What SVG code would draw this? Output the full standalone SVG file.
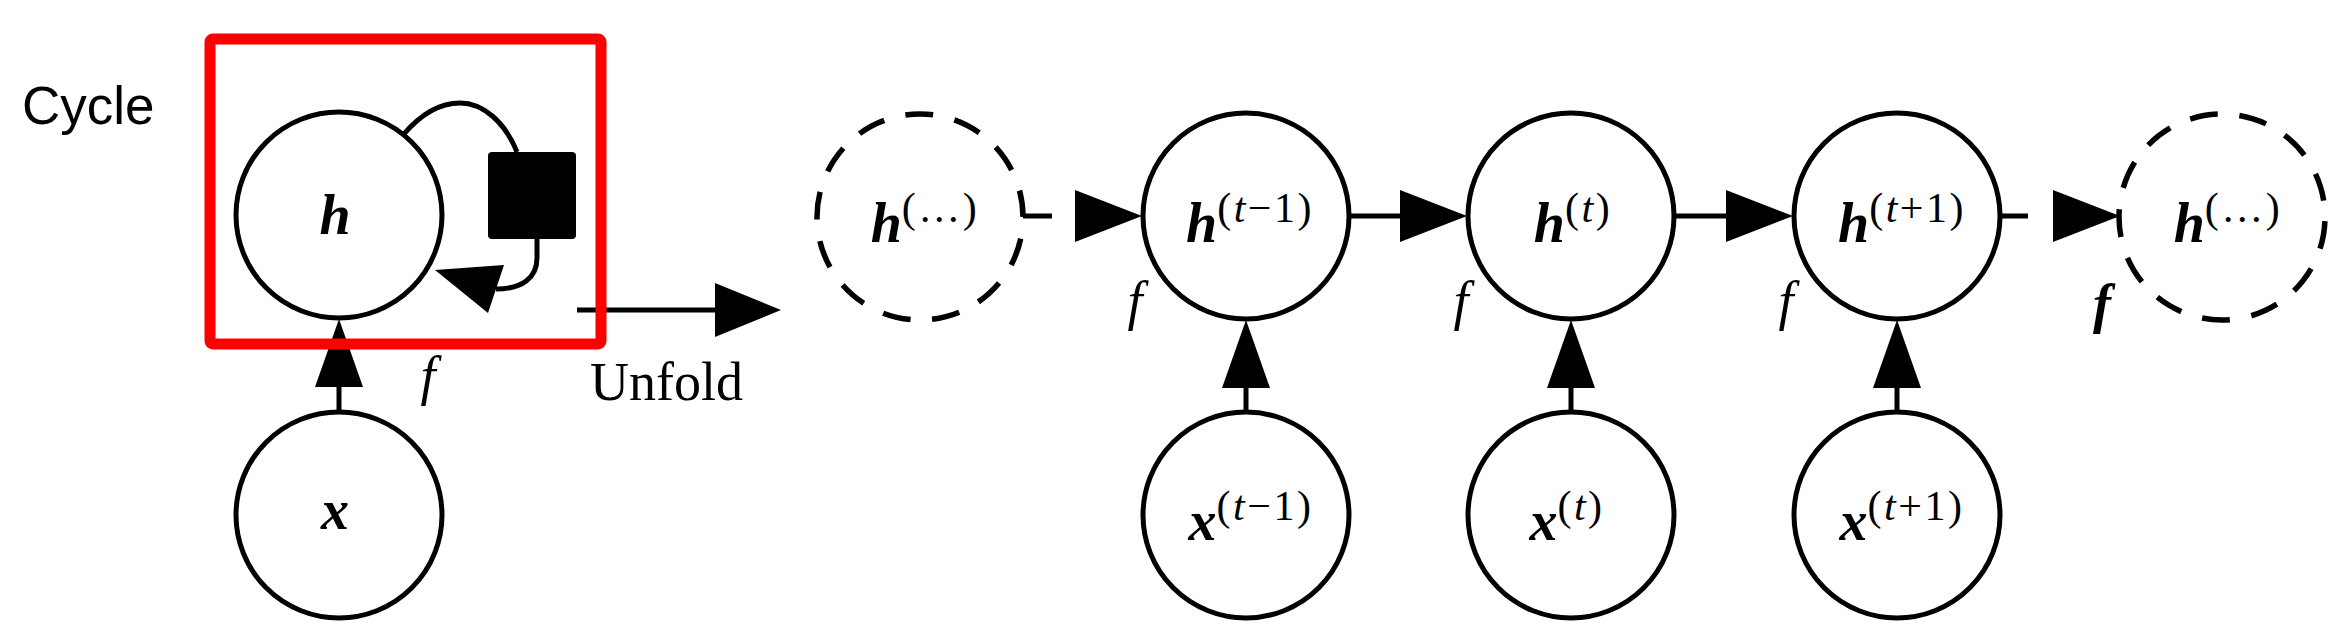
<svg xmlns="http://www.w3.org/2000/svg" xmlns:xlink="http://www.w3.org/1999/xlink" width="2345" height="633" viewBox="0 0 2345 633">
<style>
  .node { fill: #fff; stroke: #000; stroke-width: 5; }
  .dashed { fill: #fff; stroke: #000; stroke-width: 5.5; stroke-dasharray: 28 21.8; }
  .edge { fill: none; stroke: #000; stroke-width: 5; }
  .head { fill: #000; stroke: none; }
  .math { font-family: "Liberation Serif", "Times New Roman", serif; fill: #000; }
  .bi { font-weight: bold; font-style: italic; font-size: 56px; }
  .sup { font-size: 42px; letter-spacing: 2.5px; }
  .it { font-style: italic; }
  .f { font-family: "Liberation Serif", "Times New Roman", serif; font-style: italic; font-size: 54px; fill: #000; }
  .roman { font-family: "Liberation Serif", "Times New Roman", serif; font-size: 54px; fill: #000; }
  .sans { font-family: "Liberation Sans", Arial, sans-serif; font-size: 53px; fill: #000; }
</style>
<defs>
  <path id="ah" class="head" d="M0,0 L-67,-26 L-67,26 Z"/>
  <path id="ahv" class="head" d="M0,0 L-24,68 L24,68 Z"/>
</defs>
<rect width="2345" height="633" fill="#fff"/>

<text class="sans" x="22" y="124">Cycle</text>

<g id="connectors">
  <!-- cycle: self loop -->
  <path class="edge" d="M403,135 C420,115 440,103 460,103 C483,103 505,122 517,152"/>
  <path class="edge" d="M537,239 L537,258 C537,278 522,289 496,289"/>
  <path class="head" d="M435,270 L504,265 L488,313 Z"/>
  <!-- x -> h (cycle) -->
  <line class="edge" x1="339" y1="412" x2="339" y2="380"/>
  <use xlink:href="#ahv" x="339" y="319"/>
  <!-- unfold arrow -->
  <line class="edge" x1="577" y1="310" x2="720" y2="310"/>
  <path class="head" d="M781,310 L715,283 L715,337 Z"/>
  <!-- horizontal chain -->
  <line class="edge" x1="1023" y1="216" x2="1052" y2="216"/>
  <use xlink:href="#ah" x="1142" y="216"/>
  <line class="edge" x1="1349" y1="216" x2="1405" y2="216"/>
  <use xlink:href="#ah" x="1467" y="216"/>
  <line class="edge" x1="1674" y1="216" x2="1730" y2="216"/>
  <use xlink:href="#ah" x="1793" y="216"/>
  <line class="edge" x1="2000" y1="216" x2="2028" y2="216"/>
  <use xlink:href="#ah" x="2120" y="216"/>
  <!-- vertical inputs -->
  <line class="edge" x1="1246" y1="412" x2="1246" y2="380"/>
  <use xlink:href="#ahv" x="1246" y="320"/>
  <line class="edge" x1="1571" y1="412" x2="1571" y2="380"/>
  <use xlink:href="#ahv" x="1571" y="320"/>
  <line class="edge" x1="1897" y1="412" x2="1897" y2="380"/>
  <use xlink:href="#ahv" x="1897" y="320"/>
</g>

<g id="cycle-h">
  <circle class="node" cx="339" cy="215" r="103"/>
  <text class="math bi" x="335" y="234" text-anchor="middle">h</text>
</g>
<g id="cycle-delay">
  <rect x="488" y="152" width="88" height="87" rx="4" fill="#000"/>
</g>
<g id="cycle-x">
  <circle class="node" cx="339" cy="515" r="103"/>
  <text class="math bi" x="335" y="529" text-anchor="middle">x</text>
</g>
<g id="cycle-f">
  <text class="f" x="428" y="394" text-anchor="middle">f</text>
</g>
<g id="unfold-label">
  <text class="roman" x="590" y="400">Unfold</text>
</g>

<g id="h-prev-dots">
  <circle class="dashed" cx="920" cy="217" r="103" stroke-dashoffset="28"/>
  <text class="math" x="925" y="242" text-anchor="middle"><tspan class="bi">h</tspan><tspan class="sup" dy="-20">(…)</tspan></text>
</g>
<g id="h-tm1">
  <circle class="node" cx="1246" cy="216" r="103"/>
  <text class="math" x="1250" y="242" text-anchor="middle"><tspan class="bi">h</tspan><tspan class="sup" dy="-20">(<tspan class="it">t</tspan>−1)</tspan></text>
  <text class="f" x="1135" y="319" text-anchor="middle">f</text>
</g>
<g id="h-t">
  <circle class="node" cx="1571" cy="216" r="103"/>
  <text class="math" x="1573" y="242" text-anchor="middle"><tspan class="bi">h</tspan><tspan class="sup" dy="-20">(<tspan class="it">t</tspan>)</tspan></text>
  <text class="f" x="1461" y="319" text-anchor="middle">f</text>
</g>
<g id="h-tp1">
  <circle class="node" cx="1897" cy="216" r="103"/>
  <text class="math" x="1902" y="242" text-anchor="middle"><tspan class="bi">h</tspan><tspan class="sup" dy="-20">(<tspan class="it">t</tspan>+1)</tspan></text>
  <text class="f" x="1786" y="319" text-anchor="middle">f</text>
</g>
<g id="h-next-dots">
  <circle class="dashed" cx="2222" cy="217" r="103" stroke-dashoffset="45.6"/>
  <text class="math" x="2228" y="242" text-anchor="middle"><tspan class="bi">h</tspan><tspan class="sup" dy="-20">(…)</tspan></text>
  <text class="f" x="2102" y="322" text-anchor="middle" font-weight="bold">f</text>
</g>

<g id="x-tm1">
  <circle class="node" cx="1246" cy="515" r="103"/>
  <text class="math" x="1251" y="540" text-anchor="middle"><tspan class="bi">x</tspan><tspan class="sup" dy="-20">(<tspan class="it">t</tspan>−1)</tspan></text>
</g>
<g id="x-t">
  <circle class="node" cx="1571" cy="515" r="103"/>
  <text class="math" x="1567" y="540" text-anchor="middle"><tspan class="bi">x</tspan><tspan class="sup" dy="-20">(<tspan class="it">t</tspan>)</tspan></text>
</g>
<g id="x-tp1">
  <circle class="node" cx="1897" cy="515" r="103"/>
  <text class="math" x="1902" y="540" text-anchor="middle"><tspan class="bi">x</tspan><tspan class="sup" dy="-20">(<tspan class="it">t</tspan>+1)</tspan></text>
</g>

<g id="cycle-box">
  <rect x="210" y="39" width="391" height="305" rx="3" fill="none" stroke="#ff0000" stroke-width="11"/>
</g>
</svg>
